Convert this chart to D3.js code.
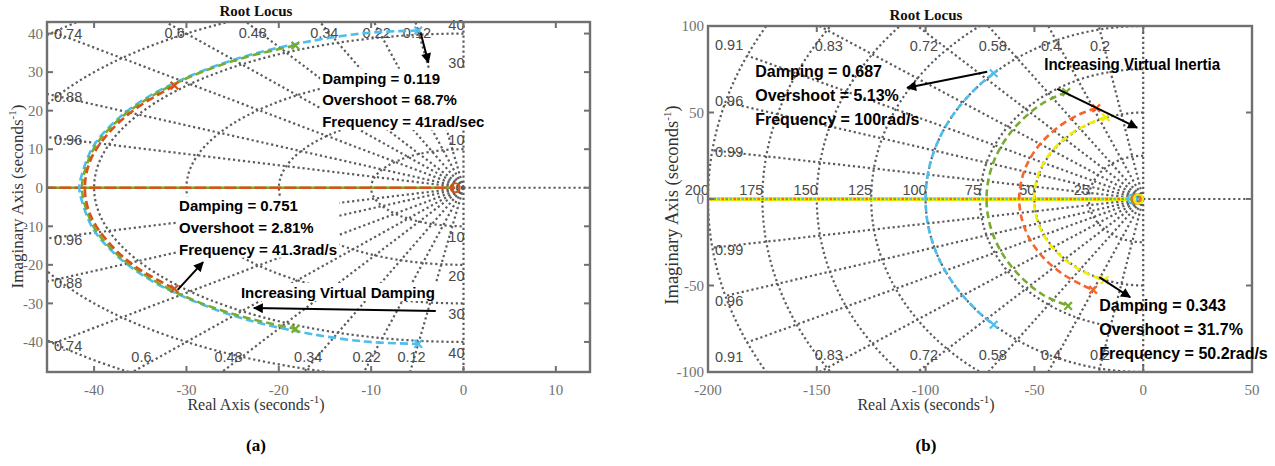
<!DOCTYPE html>
<html><head><meta charset="utf-8">
<script src="https://cdn.jsdelivr.net/npm/d3@7"></script>
<style>body{margin:0;background:#fff} svg{display:block}</style>
</head><body>
<svg id="c" width="1275" height="466"></svg>
<script>
// ---------------- DATA ----------------
// panel (a): virtual damping
const dampingA = [0.12, 0.22, 0.34, 0.48, 0.6, 0.74, 0.88, 0.96];
const freqA = [10, 20, 30, 40, 50, 60];
const freqLabelsA = [10, 20, 30, 40];
const xTicksA = [-40, -30, -20, -10, 0, 10];
const yTicksA = [-40, -30, -20, -10, 0, 10, 20, 30, 40];
const locusBlueA = [[-4.9,40.8],[-10.7,40.1],[-17.5,37.6],[-23.8,34.0],[-29.3,29.3],[-34.0,23.8],[-37.6,17.5],[-40.1,10.7],[-41.3,3.6],[-41.6,0],[-41.3,-3.6],[-40.1,-10.7],[-37.6,-17.5],[-34.0,-23.8],[-29.3,-29.3],[-23.8,-34.0],[-17.5,-37.5],[-10.7,-39.9],[-4.9,-40.5]];
const locusGreenA = [[-18.2,36.9],[-23.7,33.8],[-29.2,29.2],[-33.8,23.7],[-37.4,17.5],[-39.9,10.7],[-41.1,3.6],[-41.3,0],[-41.1,-3.6],[-39.9,-10.7],[-37.4,-17.5],[-33.8,-23.7],[-29.2,-29.2],[-23.7,-33.6],[-18.2,-36.6]];
const locusOrangeA = [[-31.3,26.5],[-35.5,20.5],[-38.5,14.0],[-40.4,7.1],[-41.0,0],[-40.4,-7.1],[-38.5,-14.0],[-35.5,-20.5],[-31.3,-26.2]];
const realBranchA = [[-60,0],[-0.9,0]];
const zerosA = [-0.9];

// panel (b): virtual inertia
const dampingB = [0.2, 0.4, 0.58, 0.72, 0.83, 0.91, 0.96, 0.99];
const freqB = [25, 50, 75, 100, 125, 150, 175, 200];
const xTicksB = [-200, -150, -100, -50, 0, 50];
const yTicksB = [-100, -50, 0, 50, 100];
const locusBlueB = [[-68.7,72.7],[-76.6,64.3],[-86.6,50.0],[-94.0,34.2],[-98.5,17.4],[-100,0],[-98.5,-17.4],[-94.0,-34.2],[-86.6,-50.0],[-76.6,-64.3],[-68.7,-72.7]];
const locusGreenB = [[-35.4,61.8],[-46.3,55.2],[-55.2,46.3],[-62.4,36.0],[-67.7,24.6],[-70.9,12.5],[-72.0,0],[-70.9,-12.5],[-67.7,-24.6],[-62.4,-36.0],[-55.2,-46.3],[-46.3,-55.2],[-34.5,-61.8]];
const locusOrangeB = [[-21.6,52.5],[-28.5,49.4],[-36.6,43.7],[-43.7,36.6],[-49.4,28.5],[-53.6,19.5],[-56.1,9.9],[-57.0,0],[-56.1,-9.9],[-53.6,-19.5],[-49.4,-28.5],[-43.7,-36.6],[-36.6,-43.7],[-28.5,-49.4],[-23.0,-52.5]];
const locusYellowB = [[-17.2,47.2],[-25.1,43.5],[-32.3,38.5],[-38.5,32.3],[-43.5,25.1],[-47.2,17.2],[-49.4,8.7],[-50.2,0],[-49.4,-8.7],[-47.2,-17.2],[-43.5,-25.1],[-38.5,-32.3],[-32.3,-38.5],[-25.1,-43.5],[-17.8,-46.9]];
const realBranchB = [[-260,0],[-6,0]];
const zerosB = [-5, -3.5, -3, -2.2]; // blue, green, orange, yellow

// annotations
const annotTextA = [
  ['Damping = 0.119','Overshoot = 68.7%','Frequency = 41rad/sec'],
  ['Damping = 0.751','Overshoot = 2.81%','Frequency = 41.3rad/s'],
  ['Increasing Virtual Damping']
];
const annotTextB = [
  ['Damping = 0.687','Overshoot = 5.13%','Frequency = 100rad/s'],
  ['Increasing Virtual Inertia'],
  ['Damping = 0.343','Overshoot = 31.7%','Frequency = 50.2rad/s']
];

// ---------------- STYLE / LAYOUT ----------------
const C = {blue:'#4DBEEE', green:'#77AC30', orangeA:'#D95319', orangeB:'#F8642A', yellow:'#F2EE00'};
const GRID = '#5c5c5c';
const FRAME = '#707070';
const svg = d3.select('#c');
const defs = svg.append('defs');
defs.append('marker').attr('id','ah').attr('viewBox','0 0 10 10').attr('refX',9).attr('refY',5)
  .attr('markerWidth',6).attr('markerHeight',5).attr('markerUnits','strokeWidth').attr('orient','auto')
  .append('path').attr('d','M0,0 L10,5 L0,10 z').attr('fill','#000');

function panel(cfg) {
  const x = d3.scaleLinear().domain(cfg.xd).range([cfg.x0, cfg.x1]);
  const y = d3.scaleLinear().domain(cfg.yd).range([cfg.y1, cfg.y0]);
  const clipId = 'clip' + cfg.id;
  defs.append('clipPath').attr('id', clipId).append('rect')
    .attr('x', cfg.x0).attr('y', cfg.y0).attr('width', cfg.x1 - cfg.x0).attr('height', cfg.y1 - cfg.y0);
  const g = svg.append('g');

  // grid
  const grid = g.append('g').attr('clip-path', `url(#${clipId})`).attr('fill','none')
    .attr('stroke', GRID).attr('stroke-width', 2.2).attr('stroke-dasharray','2.2 2.8');
  const rmax = d3.max(cfg.freq);
  cfg.freq.forEach(w => {
    const rx = x(0) - x(-w), ry = y(0) - y(w);
    grid.append('path').attr('d', `M${x(0)},${y(w)} A${rx},${ry} 0 0 0 ${x(0)},${y(-w)}`);
  });
  cfg.damping.forEach(z => {
    const s = Math.sqrt(1 - z*z);
    [1,-1].forEach(sg => grid.append('line').attr('x1',x(0)).attr('y1',y(0))
      .attr('x2',x(-rmax*z)).attr('y2',y(sg*rmax*s)));
  });
  [1,-1].forEach(sg => grid.append('line').attr('x1',x(0)).attr('y1',y(0)).attr('x2',x(0)).attr('y2',y(sg*rmax)));
  grid.append('line').attr('x1',x(0)).attr('y1',y(0)).attr('x2',x(cfg.xd[1])).attr('y2',y(0));

  // grid labels
  const gl = g.append('g').attr('font-family','"Liberation Sans", Arial, sans-serif')
    .attr('font-size', 14.5).attr('fill','#4a4a4a');
  cfg.damping.forEach(z => {
    const t = Math.sqrt(1 - z*z) / z;
    [1,-1].forEach(sg => {
      const rowPx = sg > 0 ? cfg.y0 + 5 : cfg.y1 - 5;
      const rowY = y.invert(rowPx);
      const xr = -Math.abs(rowY) / t;
      const txt = gl.append('text').text(String(z));
      const w = txt.node().getComputedTextLength();
      if (x(xr) >= cfg.x0 + 5) {
        const cx = Math.max(x(xr), cfg.x0 + 7 + w/2);
        txt.attr('x', cx).attr('y', sg > 0 ? cfg.y0 + cfg.topOff : cfg.y1 + cfg.botOff)
          .attr('text-anchor','middle').attr('dy','0.35em');
      } else {
        const xe = x.invert(cfg.x0 + 5);
        txt.attr('x', cfg.x0 + 7).attr('y', y(sg * Math.abs(xe) * t) + 2).attr('dy','0.35em');
      }
    });
  });
  if (cfg.freqMode === 'imag') {
    cfg.freqLabels.forEach(w => {
      gl.append('text').text(w).attr('x', x(0) + 1).attr('y', y(w) - 4).attr('text-anchor','end');
      gl.append('text').text(w).attr('x', x(0) + 1).attr('y', y(-w) + 16).attr('text-anchor','end');
    });
  } else {
    cfg.freqLabels.forEach(w => {
      gl.append('text').text(w).attr('x', x(-w) + 1).attr('y', y(0) - 4).attr('text-anchor','end');
    });
  }

  // loci
  const lg = g.append('g').attr('clip-path', `url(#${clipId})`).attr('fill','none');
  const line = d3.line().x(d => x(d[0])).y(d => y(d[1])).curve(d3.curveCatmullRom.alpha(0.5));
  cfg.real.forEach(r => lg.append('path').attr('d', line(cfg.realBranch)).attr('stroke', r.color)
    .attr('stroke-width', r.w).attr('stroke-dasharray', r.dash || null).attr('stroke-dashoffset', r.off || 0));
  cfg.series.forEach(s => {
    lg.append('path').attr('d', line(s.data)).attr('stroke', s.color).attr('stroke-width', 2.6)
      .attr('stroke-dasharray', cfg.dash);
  });
  // zeros
  cfg.zeros.forEach(zr => lg.append('circle').attr('cx', x(zr.x)).attr('cy', y(0)).attr('r', 4.5)
    .attr('stroke', zr.color).attr('stroke-width', 2.2).attr('fill','none'));
  // poles
  cfg.series.forEach(s => {
    [s.data[0], s.data[s.data.length-1]].forEach(p => {
      const px = x(p[0]), py = y(p[1]), k = 3.8;
      lg.append('path').attr('d', `M${px-k},${py-k}L${px+k},${py+k}M${px-k},${py+k}L${px+k},${py-k}`)
        .attr('stroke', s.color).attr('stroke-width', 2.2);
    });
  });

  // frame + ticks
  const fr = g.append('g').attr('stroke', FRAME).attr('fill','none');
  fr.append('rect').attr('x',cfg.x0).attr('y',cfg.y0).attr('width',cfg.x1-cfg.x0).attr('height',cfg.y1-cfg.y0).attr('stroke-width',2.4);
  cfg.xTicks.forEach(v => {
    fr.append('line').attr('x1',x(v)).attr('x2',x(v)).attr('y1',cfg.y1).attr('y2',cfg.y1-6).attr('stroke-width',2);
    fr.append('line').attr('x1',x(v)).attr('x2',x(v)).attr('y1',cfg.y0).attr('y2',cfg.y0+6).attr('stroke-width',2);
  });
  cfg.yTicks.forEach(v => {
    fr.append('line').attr('y1',y(v)).attr('y2',y(v)).attr('x1',cfg.x0).attr('x2',cfg.x0+6).attr('stroke-width',2);
    fr.append('line').attr('y1',y(v)).attr('y2',y(v)).attr('x1',cfg.x1).attr('x2',cfg.x1-6).attr('stroke-width',2);
  });
  const tl = g.append('g').attr('font-family','"Liberation Serif", "Times New Roman", serif')
    .attr('font-size', 15).attr('fill','#707070');
  cfg.xTicks.forEach(v => tl.append('text').text(String(v)).attr('x', x(v)).attr('y', cfg.y1 + 23).attr('text-anchor','middle'));
  cfg.yTicks.forEach(v => tl.append('text').text(String(v)).attr('x', cfg.x0 - 4).attr('y', y(v)).attr('dy','0.35em').attr('text-anchor','end'));

  // titles and labels
  const serif = '"Liberation Serif", "Times New Roman", serif';
  g.append('text').text('Root Locus').attr('x', cfg.labelCx).attr('y', cfg.titleY).attr('text-anchor','middle')
    .attr('font-family', serif).attr('font-weight','bold').attr('font-size', 15).attr('fill','#111');
  const xl = g.append('text').attr('x', cfg.labelCx).attr('y', cfg.y1 + 38).attr('text-anchor','middle')
    .attr('font-family', serif).attr('font-size', 16).attr('fill','#333');
  xl.append('tspan').text('Real Axis (seconds');
  xl.append('tspan').text('-1').attr('font-size', 11).attr('dy', -7);
  xl.append('tspan').text(')').attr('dy', 7);
  const yl = g.append('text').attr('transform', `translate(${cfg.ylabX},${cfg.ylabCy}) rotate(-90)`)
    .attr('text-anchor','middle')
    .attr('font-family', serif).attr('font-size', cfg.ylabFont).attr('fill','#333');
  yl.append('tspan').text('Imaginary Axis (seconds');
  yl.append('tspan').text('-1').attr('font-size', 11).attr('dy', -7);
  yl.append('tspan').text(')').attr('dy', 7);
  g.append('text').text(cfg.tag).attr('x', cfg.labelCx).attr('y', 451).attr('text-anchor','middle')
    .attr('font-family', serif).attr('font-weight','bold').attr('font-size', 17).attr('fill','#000');

  // annotations
  const ag = g.append('g').attr('font-family','"Liberation Sans", Arial, sans-serif')
    .attr('font-weight','bold').attr('font-size', cfg.annFont).attr('fill','#000');
  cfg.annText.forEach((lines, i) => {
    const pos = cfg.annPos[i];
    const tg = ag.append('g');
    const t = tg.append('text').attr('x', x(pos[0])).attr('y', y(pos[1]));
    lines.forEach((ln, j) => {
      t.append('tspan').text(ln).attr('x', x(pos[0])).attr('dy', j === 0 ? 0 : cfg.annStep);
    });
    if (cfg.annLen && cfg.annLen[i]) t.attr('textLength', cfg.annLen[i]).attr('lengthAdjust','spacingAndGlyphs');
    if (cfg.annBg) {
      const bb = t.node().getBBox();
      tg.insert('rect','text').attr('x', bb.x - 2).attr('y', bb.y - 1).attr('width', bb.width + 4).attr('height', bb.height + 1).attr('fill','#fff');
    }
  });
  cfg.arrows.forEach(a => {
    ag.append('line').attr('x1', x(a[0][0])).attr('y1', y(a[0][1])).attr('x2', x(a[1][0])).attr('y2', y(a[1][1]))
      .attr('stroke','#000').attr('stroke-width', 2).attr('marker-end','url(#ah)');
  });
}

panel({
  id:'A', x0:47, x1:590, y0:22, y1:372, xd:[-45.1, 13.7], yd:[-47.8, 43],
  damping: dampingA, freq: freqA, freqLabels: freqLabelsA, freqMode:'imag',
  xTicks: xTicksA, yTicks: yTicksA, topOff: 11, botOff: -15,
  labelCx: 256, titleY: 16, ylabX: 23, ylabCy: 196.5, ylabFont: 17, tag:'(a)',
  dash:'8 4',
  series:[{data:locusBlueA, color:C.blue},{data:locusGreenA, color:C.green},{data:locusOrangeA, color:C.orangeA}],
  realBranch: realBranchA,
  real:[{color:C.green, w:2.6},{color:C.orangeA, w:2.6, dash:'12 3'}],
  zeros: zerosA.map(v => ({x:v, color:C.orangeA})),
  annText: annotTextA, annPos: [[-15.3, 27.0],[-30.8, -6.1],[-24.1, -28.6]],
  annFont: 15, annStep: 21.7, annBg: true,
  arrows: [[[-4.65, 40.3],[-3.8, 32.5]], [[-30.95, -26.5],[-28.2, -19.3]], [[-3.0, -32.0],[-22.7, -31.2]]]
});

panel({
  id:'B', x0:708, x1:1252, y0:26, y1:372, xd:[-200, 50], yd:[-100, 100],
  damping: dampingB, freq: freqB, freqLabels: freqB, freqMode:'real',
  xTicks: xTicksB, yTicks: yTicksB, topOff: 20, botOff: -17,
  labelCx: 926, titleY: 20, ylabX: 678, ylabCy: 205, ylabFont: 18.5, tag:'(b)',
  dash:'7 4',
  series:[{data:locusBlueB, color:C.blue},{data:locusGreenB, color:C.green},{data:locusOrangeB, color:C.orangeB},{data:locusYellowB, color:C.yellow}],
  realBranch: realBranchB,
  real:[{color:C.yellow, w:3.8},{color:C.orangeB, w:2.5, dash:'2.5 9.5'},{color:C.blue, w:2.5, dash:'2.5 9.5', off:4},{color:C.green, w:2.5, dash:'2.5 9.5', off:8}],
  zeros: [{x:zerosB[0], color:C.blue},{x:zerosB[1], color:C.green},{x:zerosB[2], color:C.orangeB},{x:zerosB[3], color:C.yellow}],
  annText: annotTextB, annPos: [[-178.3, 70.6],[-45.5, 74.6],[-20.2, -64.8]],
  annFont: 16, annStep: 24, annBg: false, annLen: [0, 176, 0],
  arrows: [[[-71.7, 73.5],[-108.5, 64.3]], [[-39.5, 63.7],[-2.8, 41.2]], [[-20.2, -45.2],[-6.0, -56.8]]]
});
</script>
</body></html>
